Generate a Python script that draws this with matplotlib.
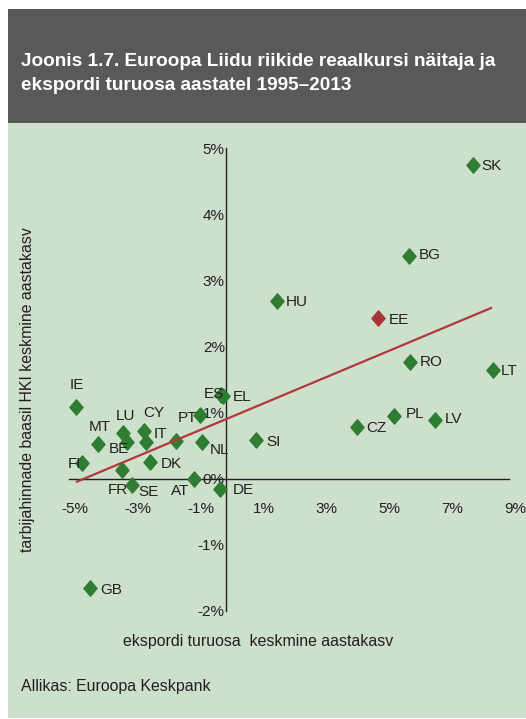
import matplotlib
matplotlib.use("Agg")
import matplotlib.pyplot as plt
from matplotlib.path import Path
import matplotlib.transforms as mtransforms

# ---------------- data ----------------
countries = ['IE', 'MT', 'LU', 'BE', 'CY', 'IT', '', 'PT', 'NL', 'ES', 'EL',
             'FI', 'FR', 'SE', 'DK', 'AT', 'DE', 'GB', 'SI', 'HU', 'EE',
             'BG', 'SK', 'RO', 'LT', 'PL', 'LV', 'CZ']
export_share_growth = [-4.79, -4.08, -3.29, -3.15, -2.62, -2.54, -1.58, -0.82,
                       -0.77, -0.15, -0.11, -4.60, -3.32, -2.98, -2.43, -1.01,
                       -0.21, -4.32, 0.96, 1.62, 4.84, 5.81, 7.85, 5.85, 8.49,
                       5.35, 6.66, 4.16]
reer_growth = [1.09, 0.52, 0.69, 0.55, 0.73, 0.55, 0.57, 0.96, 0.55, 1.27,
               1.26, 0.24, 0.14, -0.09, 0.25, 0.00, -0.15, -1.65, 0.58, 2.69,
               2.44, 3.37, 4.75, 1.77, 1.64, 0.95, 0.89, 0.79]
highlight = 'EE'
trend_x = [-4.78, 8.46]
trend_y = [-0.05, 2.59]
x_ticks = [-5, -3, -1, 1, 3, 5, 7, 9]
y_ticks = [-2, -1, 0, 1, 2, 3, 4, 5]

title_lines = ["Joonis 1.7. Euroopa Liidu riikide reaalkursi näitaja ja",
               "ekspordi turuosa aastatel 1995–2013"]
x_title = "ekspordi turuosa  keskmine aastakasv"
y_title = "tarbijahinnade baasil HKI keskmine aastakasv"
source = "Allikas: Euroopa Keskpank"

# label offsets (pixels: dx to text left edge, dy downwards to text centre)
label_offsets = {
    'SK': (9, 1), 'BG': (10, -1), 'HU': (9, 1), 'EE': (10, 2), 'RO': (10, 0),
    'LT': (8, 1), 'PL': (11, -2), 'LV': (9, -1), 'CZ': (9, 1), 'SI': (10, 2),
    'EL': (10, 1), 'ES': (-18, -1), 'NL': (8, 8), 'DE': (13, 1), 'AT': (-23, 12),
    'IE': (-6, -22), 'MT': (-9, -17), 'LU': (-7, -17), 'CY': (-1, -18),
    'IT': (7, -8), 'PT': (-23, 3), 'BE': (-18, 7), 'FI': (-14, 1), 'DK': (11, 2),
    'FR': (-14, 20), 'SE': (6, 7), 'GB': (10, 2), '': (0, 0),
}

# ---------------- style ----------------
W, H = 526, 719
DPI = 100
plt.rcParams['font.family'] = ['Liberation Sans', 'DejaVu Sans']
BG_GREEN = '#cde0cb'
HEADER = '#59595b'
TXT = '#231f20'
GREEN = '#2e7d32'
RED = '#a8343a'
LINE_RED = '#b0383c'

fig = plt.figure(figsize=(W / DPI, H / DPI), dpi=DPI)
fig.patch.set_facecolor('white')


def px_rect(x0, y0, x1, y1, color):
    fig.patches.append(plt.Rectangle((x0 / W, 1 - y1 / H), (x1 - x0) / W,
                                     (y1 - y0) / H, transform=fig.transFigure,
                                     facecolor=color, edgecolor='none', zorder=-5))


px_rect(8, 9, W, 123, HEADER)
px_rect(8, 123, W, 718, BG_GREEN)

fig.text(21 / W, 1 - 66.5 / H, title_lines[0], color='white', fontsize=13.7,
         fontweight='bold', va='baseline', ha='left')
fig.text(21 / W, 1 - 90 / H, title_lines[1], color='white', fontsize=13.7,
         fontweight='bold', va='baseline', ha='left')

# axes: x -5..9 -> px 69..509 ; y -2..5 -> px 611..148.3
ax_l, ax_r, ax_t, ax_b = 69, 509, 148.3, 611
ax = fig.add_axes([ax_l / W, 1 - ax_b / H, (ax_r - ax_l) / W, (ax_b - ax_t) / H])
ax.set_facecolor('none')
ax.set_zorder(2)
ax.set_xlim(-5, 9)
ax.set_ylim(-2, 5)

for s in ['top', 'right']:
    ax.spines[s].set_visible(False)
ax.spines['left'].set_position(('data', 0))
ax.spines['bottom'].set_position(('data', 0))
for s in ['left', 'bottom']:
    ax.spines[s].set_color(TXT)
    ax.spines[s].set_linewidth(1.0)
    ax.spines[s].set_zorder(1)

ax.set_xticks(x_ticks)
ax.set_xticklabels([f"{t}%" for t in x_ticks])
ax.set_yticks(y_ticks)
ax.set_yticklabels([f"{t}%" for t in y_ticks])
ax.tick_params(axis='both', length=0, labelsize=11, colors=TXT)
ax.tick_params(axis='x', pad=17)
ax.tick_params(axis='y', pad=1)
shift = mtransforms.ScaledTranslation(6 / DPI, 0, fig.dpi_scale_trans)
for lab in ax.get_xticklabels():
    lab.set_transform(lab.get_transform() + shift)

# diamond marker
diamond = Path([(0, 0.5), (0.43, 0), (0, -0.5), (-0.43, 0), (0, 0.5)],
               [Path.MOVETO, Path.LINETO, Path.LINETO, Path.LINETO, Path.CLOSEPOLY])

for c, x, y in zip(countries, export_share_growth, reer_growth):
    col = RED if c == highlight else GREEN
    ax.plot([x], [y], linestyle='none', marker=diamond, markersize=11,
            markerfacecolor=col, markeredgecolor=col, zorder=2, clip_on=False)
    if c:
        dx, dy = label_offsets.get(c, (9, 0))
        ax.annotate(c, (x, y), xytext=(dx, -dy), textcoords='offset pixels',
                    ha='left', va='center', fontsize=11, color=TXT, zorder=4)

ax.plot(trend_x, trend_y, color=LINE_RED, linewidth=1.6, zorder=3,
        solid_capstyle='butt')

fig.text(258 / W, 1 - 641.7 / H, x_title, ha='center', va='center',
         fontsize=11.4, color=TXT)
fig.text(28 / W, 1 - 390 / H, y_title, ha='center', va='center',
         fontsize=11.4, color=TXT, rotation=90)
fig.text(21 / W, 1 - 687 / H, source, ha='left', va='center',
         fontsize=11.4, color=TXT)

fig.savefig('out.png', dpi=DPI, facecolor=fig.get_facecolor())
